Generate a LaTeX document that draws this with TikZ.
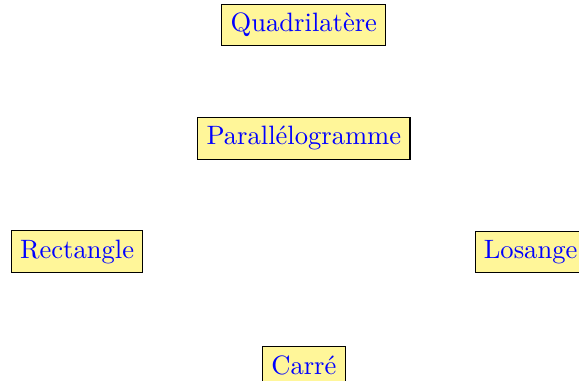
\documentclass[tikz,border=0pt]{standalone}
\usepackage{amsmath,amssymb,tikz}
\usetikzlibrary{positioning}
\definecolor{figY}{RGB}{255,246,153}
\definecolor{figB}{RGB}{0,0,255}

\begin{document}
\begin{tikzpicture}[forme/.style={draw=black,fill=figY,text=figB}]
\useasboundingbox (-4.02,-4.70) rectangle (3.64,0.33);
\node[forme] (Q) at (0,0) {Quadrilatère};
\node[forme] (P) at (0,-1.5) {Parallélogramme};
\node[forme] (R) at (-3,-3) {Rectangle};
\node[forme] (L) at (3,-3) {Losange};
\node[forme] (C) at (0,-4.5) {Carré};
\end{tikzpicture}
\end{document}
